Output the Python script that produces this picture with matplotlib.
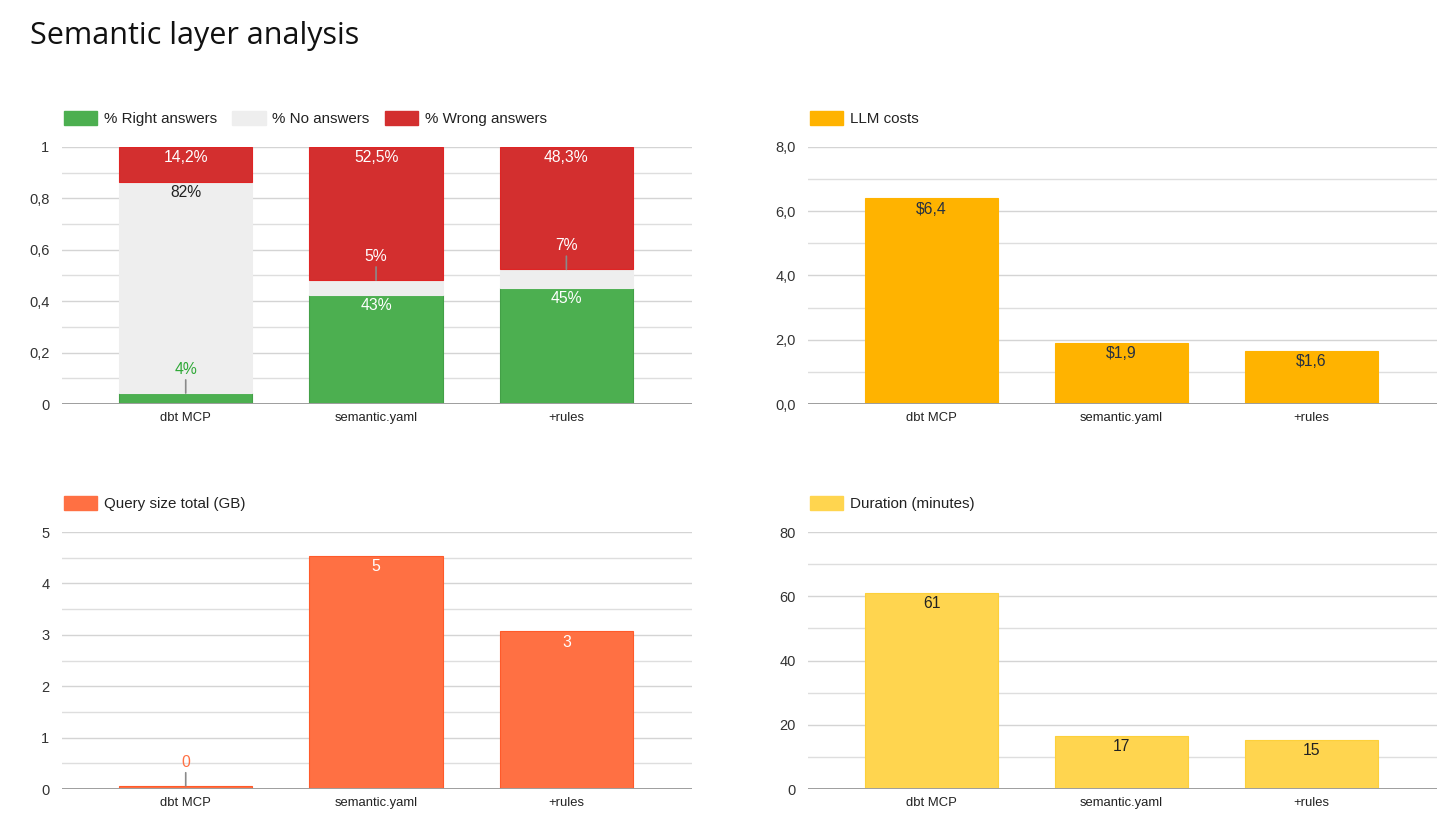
"""Semantic layer analysis: four small bar charts in a 2x2 grid."""

import matplotlib

matplotlib.use("Agg")
import matplotlib.pyplot as plt
from matplotlib.patches import Patch
from matplotlib.ticker import FuncFormatter, MultipleLocator

# Data
categories = ["dbt MCP", "semantic.yaml", "+rules"]

right_share = [0.0425, 0.426, 0.452]
no_share = [0.8225, 0.056, 0.072]
wrong_share = [0.135, 0.518, 0.476]
right_labels = ["4%", "43%", "45%"]
no_labels = ["82%", "5%", "7%"]
wrong_labels = ["14,2%", "52,5%", "48,3%"]

llm_costs = [6.4, 1.9, 1.65]
llm_labels = ["$6,4", "$1,9", "$1,6"]

query_size_gb = [0.06, 4.54, 3.07]
query_labels = ["0", "5", "3"]

duration_min = [61.1, 16.6, 15.3]
duration_labels = ["61", "17", "15"]

# Colours (Google Sheets style)
GREEN = "#4caf50"
GREY = "#eeeeee"
RED = "#d32f2f"
AMBER = "#ffb300"
ORANGE = "#ff7043"
YELLOW = "#ffd54f"

plt.rcParams.update(
    {
        "font.family": ["Liberation Sans", "DejaVu Sans"],
        "font.size": 10,
    }
)

W, H = 1456, 838
fig = plt.figure(figsize=(W / 100, H / 100), dpi=100)


def px_axes(left, top, right, bottom):
    """Add axes given a pixel box (origin top-left)."""
    return fig.add_axes([left / W, 1 - bottom / H, (right - left) / W, (bottom - top) / H])


def style_axes(ax, ymax, major, fmt):
    ax.set_xlim(-0.65, 2.66)
    ax.set_ylim(0, ymax)
    ax.yaxis.set_major_locator(MultipleLocator(major))
    ax.yaxis.set_minor_locator(MultipleLocator(major / 2))
    ax.yaxis.set_major_formatter(FuncFormatter(fmt))
    ax.grid(axis="y", which="major", color="#d4d4d4", linewidth=1.0, zorder=0)
    ax.grid(axis="y", which="minor", color="#dedede", linewidth=1.0, zorder=0)
    ax.set_axisbelow(True)
    for side in ax.spines.values():
        side.set_visible(False)
    ax.axhline(0, color="#9e9e9e", linewidth=1.4, zorder=3)
    ax.set_xticks(range(len(categories)))
    ax.set_xticklabels(categories, fontsize=9.4, color="#222222")
    ax.tick_params(axis="x", length=0, pad=6)
    ax.tick_params(axis="y", which="both", length=0, pad=9, labelsize=10.5, labelcolor="#333333")


def add_legend(ax, items):
    handles = [Patch(facecolor=c, edgecolor=c, label=t) for t, c in items]
    ax.legend(
        handles=handles,
        loc="center left",
        bbox_to_anchor=(0.003, 1.11),
        ncol=len(items),
        frameon=False,
        fontsize=10.9,
        handlelength=2.2,
        handleheight=1.0,
        handletextpad=0.45,
        columnspacing=1.0,
        borderaxespad=0,
        borderpad=0,
        labelcolor="#222222",
    )


def inside_label(ax, x, y, text, color):
    ax.annotate(
        text, (x, y), xytext=(0, -2.5), textcoords="offset points",
        ha="center", va="top", fontsize=11.3, color=color, zorder=5,
    )


def leader_label(ax, x, y, text, color):
    ax.annotate(
        text, (x, y), xytext=(0, 11.5), textcoords="offset points",
        ha="center", va="bottom", fontsize=11.3, color=color, zorder=5,
        arrowprops=dict(arrowstyle="-", color="#8a8a8a", lw=1.2,
                        shrinkA=0, shrinkB=0),
    )


def pct_fmt(v, _):
    return f"{v:g}".replace(".", ",")


def one_dec_fmt(v, _):
    return f"{v:.1f}".replace(".", ",")


def int_fmt(v, _):
    return f"{v:.0f}"


BAR_W = 0.7
xs = list(range(len(categories)))

# Panel 1: stacked answer shares
ax1 = px_axes(62, 147, 692, 404)
style_axes(ax1, 1.0, 0.2, pct_fmt)
ax1.bar(xs, right_share, BAR_W, color=GREEN, edgecolor="#43a047", linewidth=0.8, zorder=2)
no_bottom = right_share
ax1.bar(xs, no_share, BAR_W, bottom=no_bottom, color=GREY, edgecolor=GREY, linewidth=0.8, zorder=2)
wrong_bottom = [r + n for r, n in zip(right_share, no_share)]
ax1.bar(xs, wrong_share, BAR_W, bottom=wrong_bottom, color=RED, edgecolor="#e02424",
        linewidth=0.8, zorder=2)
for i in xs:
    top_wrong = wrong_bottom[i] + wrong_share[i]
    inside_label(ax1, i, top_wrong, wrong_labels[i], "white")
    if right_share[i] < 0.1:
        leader_label(ax1, i, right_share[i], right_labels[i], "#2ea836")
    else:
        inside_label(ax1, i, right_share[i], right_labels[i], "white")
    if no_share[i] < 0.1:
        leader_label(ax1, i, wrong_bottom[i], no_labels[i], "white")
    else:
        inside_label(ax1, i, wrong_bottom[i], no_labels[i], "#222222")
add_legend(ax1, [("% Right answers", GREEN), ("% No answers", GREY), ("% Wrong answers", RED)])

# Panel 2: LLM costs
ax2 = px_axes(808, 147, 1437, 404)
style_axes(ax2, 8.0, 2.0, one_dec_fmt)
ax2.bar(xs, llm_costs, BAR_W, color=AMBER, edgecolor=AMBER, linewidth=0.8, zorder=2)
for i in xs:
    inside_label(ax2, i, llm_costs[i], llm_labels[i], "#263040")
add_legend(ax2, [("LLM costs", AMBER)])

# Panel 3: query size
ax3 = px_axes(62, 532, 692, 789)
style_axes(ax3, 5, 1, int_fmt)
ax3.bar(xs, query_size_gb, BAR_W, color=ORANGE, edgecolor="#ff5a2a", linewidth=0.8, zorder=2)
for i in xs:
    if query_size_gb[i] < 0.5:
        leader_label(ax3, i, query_size_gb[i], query_labels[i], ORANGE)
    else:
        inside_label(ax3, i, query_size_gb[i], query_labels[i], "white")
add_legend(ax3, [("Query size total (GB)", ORANGE)])

# Panel 4: duration
ax4 = px_axes(808, 532, 1437, 789)
style_axes(ax4, 80, 20, int_fmt)
ax4.bar(xs, duration_min, BAR_W, color=YELLOW, edgecolor="#fdd03a", linewidth=0.8, zorder=2)
for i in xs:
    inside_label(ax4, i, duration_min[i], duration_labels[i], "#222222")
add_legend(ax4, [("Duration (minutes)", YELLOW)])

fig.text(30 / W, 1 - 44 / H, "Semantic layer analysis", fontsize=22,
         family=["Open Sans", "DejaVu Sans"], color="#111111", va="baseline", ha="left")

fig.savefig("out.png", dpi=100)
